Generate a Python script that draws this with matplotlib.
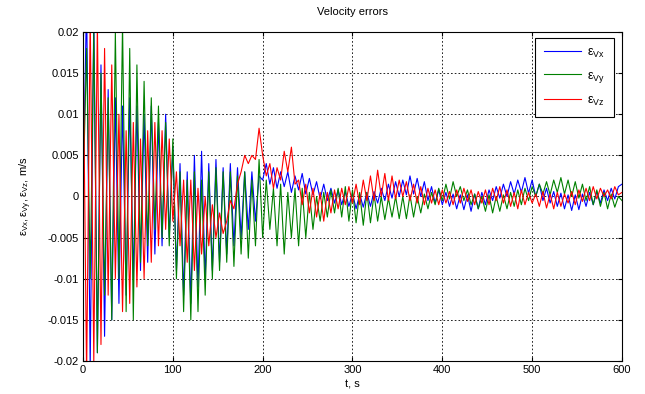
"""
velocity_errors.py  -  Errores de velocidad (eVx, eVy, eVz) frente al tiempo.
Uso: python plot.py
"""
import numpy as np
import matplotlib; matplotlib.use("Agg"); import matplotlib.pyplot as plt

# muestras cada 4 s (picos / valles), unidades 1e-3 m/s
t_step = 4
vx = [0, 24, -21, 22, -19, 16, -17, 13, -15, 12,
      -13, 11, -12, 12, -10, 11, -9, 10, -8, 11,
      -7, 9, -6, 10, -5, 6, -9, 4, -12, 3,
      -13, 5, -11, 5.5, -10, 4, -9, 4.5, -8, 3.5,
      -7, 4, -6, 3.5, -5, 3, -4, 3, -3, 2.5,
      2, 4, 1.5, 3.5, 1, 3, 1.2, 3, 0.5, 2.5,
      0.8, 2.8, 0.3, 2.2, 0.2, 1.8, -0.3, 1.5, -0.5, 1,
      -0.8, 0.8, -1, 0.6, -1.2, 0.4, -1.5, 0.3, -1.3, 0.5,
      -1.2, 0.6, -0.8, 1, -0.5, 1.5, -0.2, 1.8, 0, 2,
      0.2, 2.5, 0.3, 2.2, 0, 1.8, -0.5, 1.2, -0.8, 0.8,
      -1, 0.5, -1.2, 0.3, -1.5, 0.2, -1.6, 0.2, -1.8, 0.3,
      -1.5, 0.5, -1, 0.8, -0.5, 1.2, -0.2, 1.5, 0, 1.8,
      0.3, 2, 0.5, 2.3, 0.4, 2, 0, 1.5, -0.5, 1,
      -0.8, 0.6, -1.2, 0.4, -1.5, 0.2, -1.7, 0.2, -1.6, 0.3,
      -1.2, 0.5, -1, 0.6, -0.8, 0.8, -0.5, 1, -0.3, 1.2,
      1.5]
vy = [0, 18, -10, 20, -19, 15, -12, 12, -15, 20,
      -10, 21, -14, 18, -15, 16, -8, 14, -6, 12,
      -4, 11, -5, 9, -6, 7, -10, 3, -14, 2,
      -15, 3, -14, 2, -12, 3, -10, 3.5, -9, 3,
      -8, 3, -8.5, 2.5, -7, 3, -7.5, 2, -6, 4.5,
      -5, 2, -4, 1, -6, 1.5, -7, 0.5, -5, 1,
      -6, 1, -5, 0.5, -4, 0, -3, 0.5, -2.5, 0.8,
      -2, 1, -2.5, 1.2, -3, 0.8, -3.2, 0.5, -3.5, 0.5,
      -3.2, 0.3, -3, 0, -2.8, -0.2, -2.5, 0, -2.7, 0,
      -2.7, 0.2, -2.5, 0, -2, 0.3, -1.5, 0.5, -1, 1,
      -0.5, 1.5, -0.3, 1.8, 0, 1.2, -0.5, 0.8, -1, 0.3,
      -1.5, 0, -1.8, 0.2, -2, 0, -1.8, 0.2, -1.5, 0.5,
      -1.2, 0.8, -1, 1, -0.5, 1.2, 0, 1.5, 0.3, 1.8,
      0.2, 2, 0.5, 2.3, 0.3, 2, 0, 1.8, -0.2, 1.5,
      -0.5, 1.2, -1, 0.8, -1.2, 0.5, -1.5, 0.3, -1.3, 0,
      -0.5]
vz = [20, -22, 22, -20, 21, -18, 18, -12, 16, -10,
      10, -14, 8, -13, 9, -11, 7, -10, 8, -8,
      9, -6, 8, -4, 7, -3, 3, -6, 2, -8,
      2, -9, 1, -7, 0, -6, -1, -5, -2, -4.5,
      -3, -0.5, -1.5, 1.5, 3, 5, 4, 5, 4.5, 8.3,
      5, 2.5, 4, 1, 3.5, 2, 5.5, 3, 6, 1.5,
      2, -1, 1.5, -2, 1, -2.5, 0.5, -3, 0.5, -2,
      0.8, -1.5, 1, -1, 1.2, -0.8, 1.5, -1, 2, -0.5,
      2.5, -0.5, 3.2, 0, 2.8, -0.5, 2.5, -0.3, 2, 0,
      1.8, -0.5, 1.5, -0.8, 1.2, -1, 1, -0.8, 0.8, -1,
      0.8, -0.8, 0.6, -1, 0.8, -0.8, 1, -0.6, 0.8, -1,
      0.6, -0.8, 0.8, -1, 1, -0.5, 1.2, -0.8, 0.8, -1.2,
      0.5, -1.5, 0.8, -1, 0.5, -0.8, 0.3, -1.2, 0.6, -1.4,
      0.3, -1.5, 0.5, -1.2, 0.3, -0.8, 0.6, -1, 0.8, -0.6,
      1, -0.5, 1.2, -0.3, 1, 0, 0.8, -0.3, 1.2, 0.2,
      0.5]
labels = [r"$\mathregular{\epsilon_{Vx}}$", r"$\mathregular{\epsilon_{Vy}}$", r"$\mathregular{\epsilon_{Vz}}$"]
colors = ["#0000ff", "#008000", "#ff0000"]
xticks = [0, 100, 200, 300, 400, 500, 600]
yticks = [-0.02, -0.015, -0.01, -0.005, 0, 0.005, 0.01, 0.015, 0.02]
yticklabels = ["-0.02", "-0.015", "-0.01", "-0.005", "0", "0.005", "0.01", "0.015", "0.02"]

plt.rcParams["font.family"] = ["Liberation Sans", "DejaVu Sans"]
plt.rcParams["mathtext.fontset"] = "custom"; plt.rcParams["mathtext.rm"] = "Liberation Sans"
t = np.arange(len(vx)) * t_step

fig = plt.figure(figsize=(6.45, 3.94), dpi=100)
ax = fig.add_axes([0.1287, 0.0838, 0.8356, 0.835])
for s, c, lab in zip([vx, vy, vz], colors, labels):
    ax.plot(t, np.array(s) * 1e-3, color=c, lw=0.8, label=lab)
ax.set_xlim(0, 600); ax.set_ylim(-0.02, 0.02)
ax.set_xticks(xticks); ax.set_yticks(yticks); ax.set_yticklabels(yticklabels)
ax.tick_params(direction="in", top=True, right=True, labelsize=8, length=3, pad=3)
ax.grid(True, color="k", linestyle=(0, (2, 2.5)), lw=0.6)
for sp in ax.spines.values(): sp.set_linewidth(0.8)
ax.set_title("Velocity errors", fontsize=8, pad=12)
ax.set_xlabel("t, s", fontsize=8, labelpad=3)
ax.set_ylabel(r"$\mathregular{\epsilon_{Vx}, \epsilon_{Vy}, \epsilon_{Vz}}$, m/s", fontsize=8, labelpad=10)
leg = ax.legend(loc="upper right", fontsize=9, fancybox=False, framealpha=1, edgecolor="k",
                handlelength=3.0, handletextpad=0.5, labelspacing=0.8, borderpad=0.7,
                bbox_to_anchor=(0.99, 0.99), borderaxespad=0.2)
leg.get_frame().set_linewidth(0.8)
fig.savefig("out.png", dpi=100); plt.close(fig)
